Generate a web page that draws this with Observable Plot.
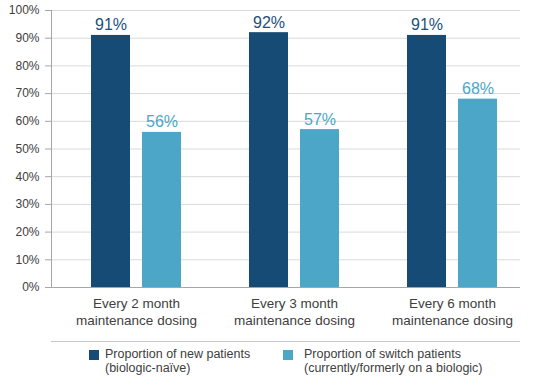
<!DOCTYPE html>
<html>
<head>
<meta charset="utf-8">
<script src="https://cdn.jsdelivr.net/npm/d3@7"></script>
<script src="https://cdn.jsdelivr.net/npm/@observablehq/plot@0.6"></script>
<style>
  body { margin: 0; background: #fff; font-family: "Liberation Sans", Arial, sans-serif; }
  #wrap { width: 533px; position: relative; }
  #legend { position: relative; width: 533px; height: 46px; }
  #legend .sep { position: absolute; left: 51px; width: 469px; top: 5px; border-top: 1px solid #c8c8c8; }
  #legend .sw { position: absolute; width: 10px; height: 10px; top: 14px; }
  #legend .lbl { position: absolute; top: 12px; font-size: 12.5px; line-height: 13.5px; color: #404040; white-space: pre; }
</style>
</head>
<body>
<div id="wrap"></div>
<script>
const groupLabels = ["Every 2 month\nmaintenance dosing", "Every 3 month\nmaintenance dosing", "Every 6 month\nmaintenance dosing"];
const newPatients = [91, 92, 91];
const switchPatients = [56, 57, 68];
const seriesNames = ["Proportion of new patients\n(biologic-naïve)", "Proportion of switch patients\n(currently/formerly on a biologic)"];
const yTicks = [0, 10, 20, 30, 40, 50, 60, 70, 80, 90, 100];

const dark = "#154b75";
const light = "#4ca6c7";

const newRows = groupLabels.map((g, i) => ({group: g, value: newPatients[i]}));
const switchRows = groupLabels.map((g, i) => ({group: g, value: switchPatients[i]}));

const chart = Plot.plot({
  width: 533,
  height: 336,
  marginLeft: 51,
  marginRight: 13,
  marginTop: 10,
  marginBottom: 49,
  style: {fontFamily: "'Liberation Sans', Arial, sans-serif", background: "white"},
  x: {domain: groupLabels, range: [57, 531], padding: 0, axis: null},
  y: {domain: [0, 100], axis: null},
  marks: [
    Plot.ruleY(yTicks.filter(d => d > 0), {y: d => d, stroke: "#d9d9d9", strokeWidth: 1}),
    Plot.barY(newRows, {x: "group", y: "value", fill: dark, insetLeft: 34, insetRight: 85}),
    Plot.barY(switchRows, {x: "group", y: "value", fill: light, insetLeft: 85, insetRight: 34}),
    Plot.text(newRows, {x: "group", y: "value", text: d => d.value + "%", dx: -25.5, dy: -5, lineAnchor: "bottom", fontSize: 16, fill: "#1d4f7c"}),
    Plot.text(switchRows, {x: "group", y: "value", text: d => d.value + "%", dx: 25.5, dy: -5, lineAnchor: "bottom", fontSize: 16, fill: light}),
    Plot.ruleY([0], {stroke: "#a6a6a6"}),
    Plot.frame({anchor: "left", stroke: "#a6a6a6"}),
    Plot.axisY({ticks: yTicks, label: null, tickFormat: d => d + "%", tickSize: 6, tickPadding: 6, fontSize: 12, stroke: "#a6a6a6", fill: "#404040"}),
    Plot.text(groupLabels, {x: d => d, frameAnchor: "bottom", lineAnchor: "top", dy: 8, fontSize: 13.5, lineHeight: 1.26, fill: "#404040"})
  ]
});
document.getElementById("wrap").appendChild(chart);

const legend = document.createElement("div");
legend.id = "legend";
legend.innerHTML = `<div class="sep"></div>
<div class="sw" style="left:89px;background:${dark}"></div>
<div class="lbl" style="left:105px">${seriesNames[0]}</div>
<div class="sw" style="left:283px;background:${light}"></div>
<div class="lbl" style="left:304px">${seriesNames[1]}</div>`;
document.getElementById("wrap").appendChild(legend);
</script>
</body>
</html>
